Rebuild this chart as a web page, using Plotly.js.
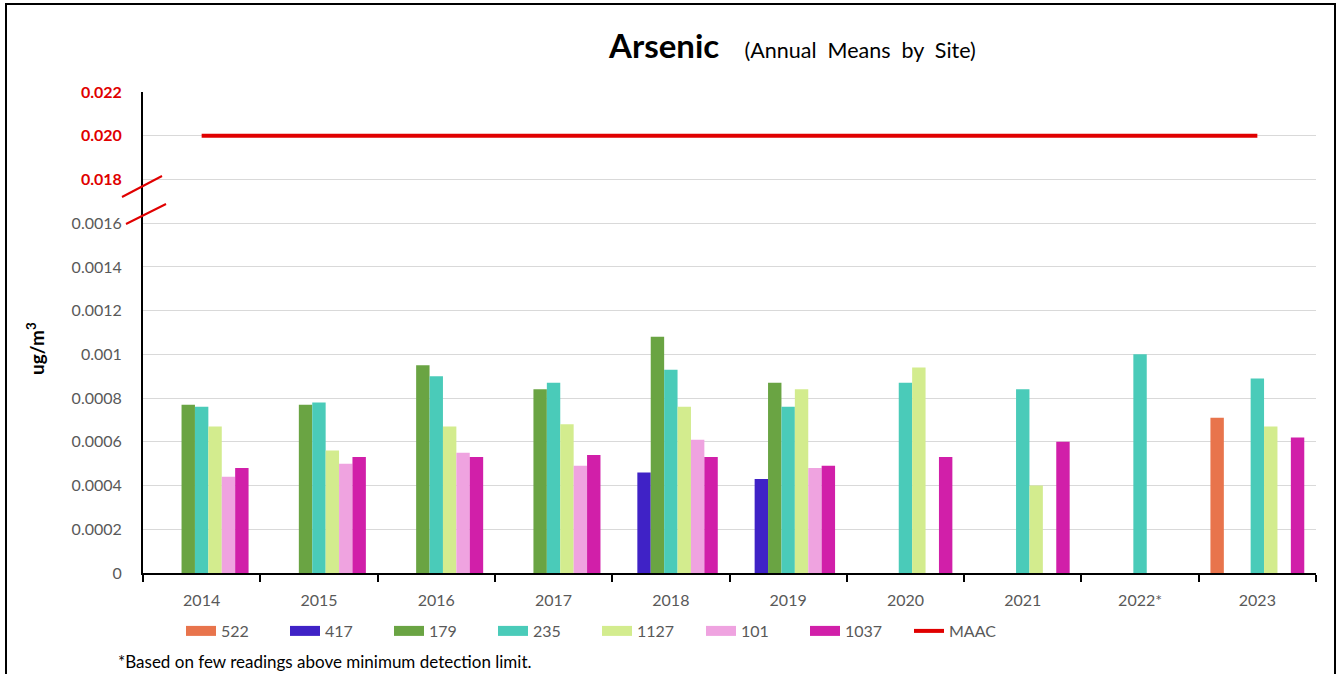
<!DOCTYPE html>
<html>
<head>
<meta charset="utf-8">
<script src="https://cdn.plot.ly/plotly-3.0.1.min.js"></script>
<style>
  html, body { margin: 0; padding: 0; background: #fff; }
  #wrap { position: relative; width: 1340px; height: 674px; overflow: hidden; }
  #chart { position: absolute; left: 0; top: 0; width: 1340px; height: 674px; }
  #frame { position: absolute; left: 5px; top: 3px; width: 1327px; height: 700px;
           border: 2px solid #000; pointer-events: none; }
</style>
</head>
<body>
<div id="wrap">
  <div id="chart"></div>
  <div id="frame"></div>
</div>
<script>
// ---- data (ug/m3) ----
const years = ['2014','2015','2016','2017','2018','2019','2020','2021','2022*','2023'];
const site522  = [null, null, null, null, null, null, null, null, null, 0.00071];
const site417  = [null, null, null, null, 0.00046, 0.00043, null, null, null, null];
const site179  = [0.00077, 0.00077, 0.00095, 0.00084, 0.00108, 0.00087, null, null, null, null];
const site235  = [0.00076, 0.00078, 0.00090, 0.00087, 0.00093, 0.00076, 0.00087, 0.00084, 0.00100, 0.00089];
const site1127 = [0.00067, 0.00056, 0.00067, 0.00068, 0.00076, 0.00084, 0.00094, 0.00040, null, 0.00067];
const site101  = [0.00044, 0.00050, 0.00055, 0.00049, 0.00061, 0.00048, null, null, null, null];
const site1037 = [0.00048, 0.00053, 0.00053, 0.00054, 0.00053, 0.00049, 0.00053, 0.00060, null, 0.00062];
const maac     = [0.020, 0.020, 0.020, 0.020, 0.020, 0.020, 0.020, 0.020, 0.020, 0.020];

const lowTicks  = [0, 0.0002, 0.0004, 0.0006, 0.0008, 0.001, 0.0012, 0.0014, 0.0016];
const lowLabels = ['0','0.0002','0.0004','0.0006','0.0008','0.001','0.0012','0.0014','0.0016'];
const highTicks  = [0.018, 0.020, 0.022];
const highLabels = ['0.018','0.020','0.022'];

// broken axis: values above the break are compressed by a factor of 10
const BREAK = 0.0016;
function brk(v) { return (v == null) ? null : (v > BREAK ? v / 10 : v); }

const names  = ['522','417','179','235','1127','101','1037'];
const series = [site522, site417, site179, site235, site1127, site101, site1037];
const colors = ['#e8744c','#3f22c6','#6aa443','#4acbb9','#d3ec8e','#efa3e0','#d11fa9'];

const FONT = 'Lato, "Open Sans", sans-serif';
const traces = series.map((s, i) => ({
  type: 'bar', name: names[i], x: years, y: s.map(brk), legendgroup: names[i], showlegend: false,
  marker: { color: colors[i] }, hoverinfo: 'x+name'
}));
// legend keys drawn as wide swatches (legend only)
names.forEach((n, i) => traces.push({
  type: 'scatter', mode: 'lines', name: n, legendgroup: n, x: [null], y: [null],
  line: { color: colors[i], width: 11 }, hoverinfo: 'skip'
}));
traces.push({
  type: 'scatter', mode: 'lines', name: 'MAAC', x: years, y: maac.map(brk),
  line: { color: '#e00000', width: 4 }, hoverinfo: 'name'
});

const tickvals = lowTicks.concat(highTicks.map(brk));
const ticktext = lowLabels.concat(highLabels.map(t => '<span style="color:#e00000"><b>' + t + '</b></span>'));

function py(pix) { return (573 - pix) / 481 * 0.0022; }   // only for break-mark decoration
function px(pix) { return (pix - 143) / 1173; }
function pyp(pix) { return (573 - pix) / 481; }

const layout = {
  width: 1340, height: 674,
  margin: { l: 143, r: 24, t: 92, b: 101 },
  paper_bgcolor: '#fff', plot_bgcolor: '#fff',
  font: { family: FONT, size: 16, color: '#595959' },
  title: {
    text: '<b>Arsenic</b>&nbsp;&nbsp;&nbsp;<span style="font-size:21.5px">(Annual&nbsp; Means&nbsp; by&nbsp; Site)</span>',
    font: { family: FONT, size: 33, color: '#000' },
    x: 609 / 1340, xanchor: 'left', xref: 'container',
    y: 1 - 46 / 674, yanchor: 'middle', yref: 'container'
  },
  barmode: 'group', bargap: 0.2, bargroupgap: 0,
  xaxis: {
    type: 'category', tickson: 'boundaries', ticks: 'outside', ticklen: 7, tickwidth: 2,
    tickcolor: '#000', showline: true, linecolor: '#000', linewidth: 2,
    showgrid: false, tickfont: { size: 16, color: '#595959' }, ticklabelstandoff: 12,
    fixedrange: true
  },
  yaxis: {
    range: [0, 0.0022], tickmode: 'array', tickvals: tickvals, ticktext: ticktext,
    showline: true, linecolor: '#000', linewidth: 2, ticks: '',
    showgrid: true, gridcolor: '#d9d9d9', gridwidth: 1, zeroline: false,
    tickfont: { size: 16, color: '#595959' }, ticklabelstandoff: 16,
    fixedrange: true
  },
  showlegend: true,
  legend: {
    orientation: 'h', x: px(181), xanchor: 'left', y: pyp(631), yanchor: 'middle',
    font: { size: 16, color: '#595959' }, entrywidth: 59, entrywidthmode: 'pixels',
    traceorder: 'normal', bgcolor: 'rgba(0,0,0,0)'
  },
  shapes: [
    { type: 'line', xref: 'paper', yref: 'y', x0: px(122), y0: py(197), x1: px(162), y1: py(176),
      line: { color: '#e00000', width: 2 } },
    { type: 'line', xref: 'paper', yref: 'y', x0: px(126), y0: py(224), x1: px(166), y1: py(204),
      line: { color: '#e00000', width: 2 } }
  ],
  annotations: [
    { text: '<b>ug/m<sup>3</sup></b>', xref: 'paper', yref: 'paper', textangle: -90,
      x: px(35), xanchor: 'center', y: pyp(349), yanchor: 'middle', showarrow: false,
      font: { size: 19, color: '#000' } },
    { text: '*Based on few readings above minimum detection limit.', xref: 'paper', yref: 'paper',
      x: px(116), xanchor: 'left', y: pyp(661), yanchor: 'middle', showarrow: false,
      font: { size: 17, color: '#000' } }
  ]
};

Plotly.newPlot('chart', traces, layout, { displayModeBar: false });
</script>
</body>
</html>
